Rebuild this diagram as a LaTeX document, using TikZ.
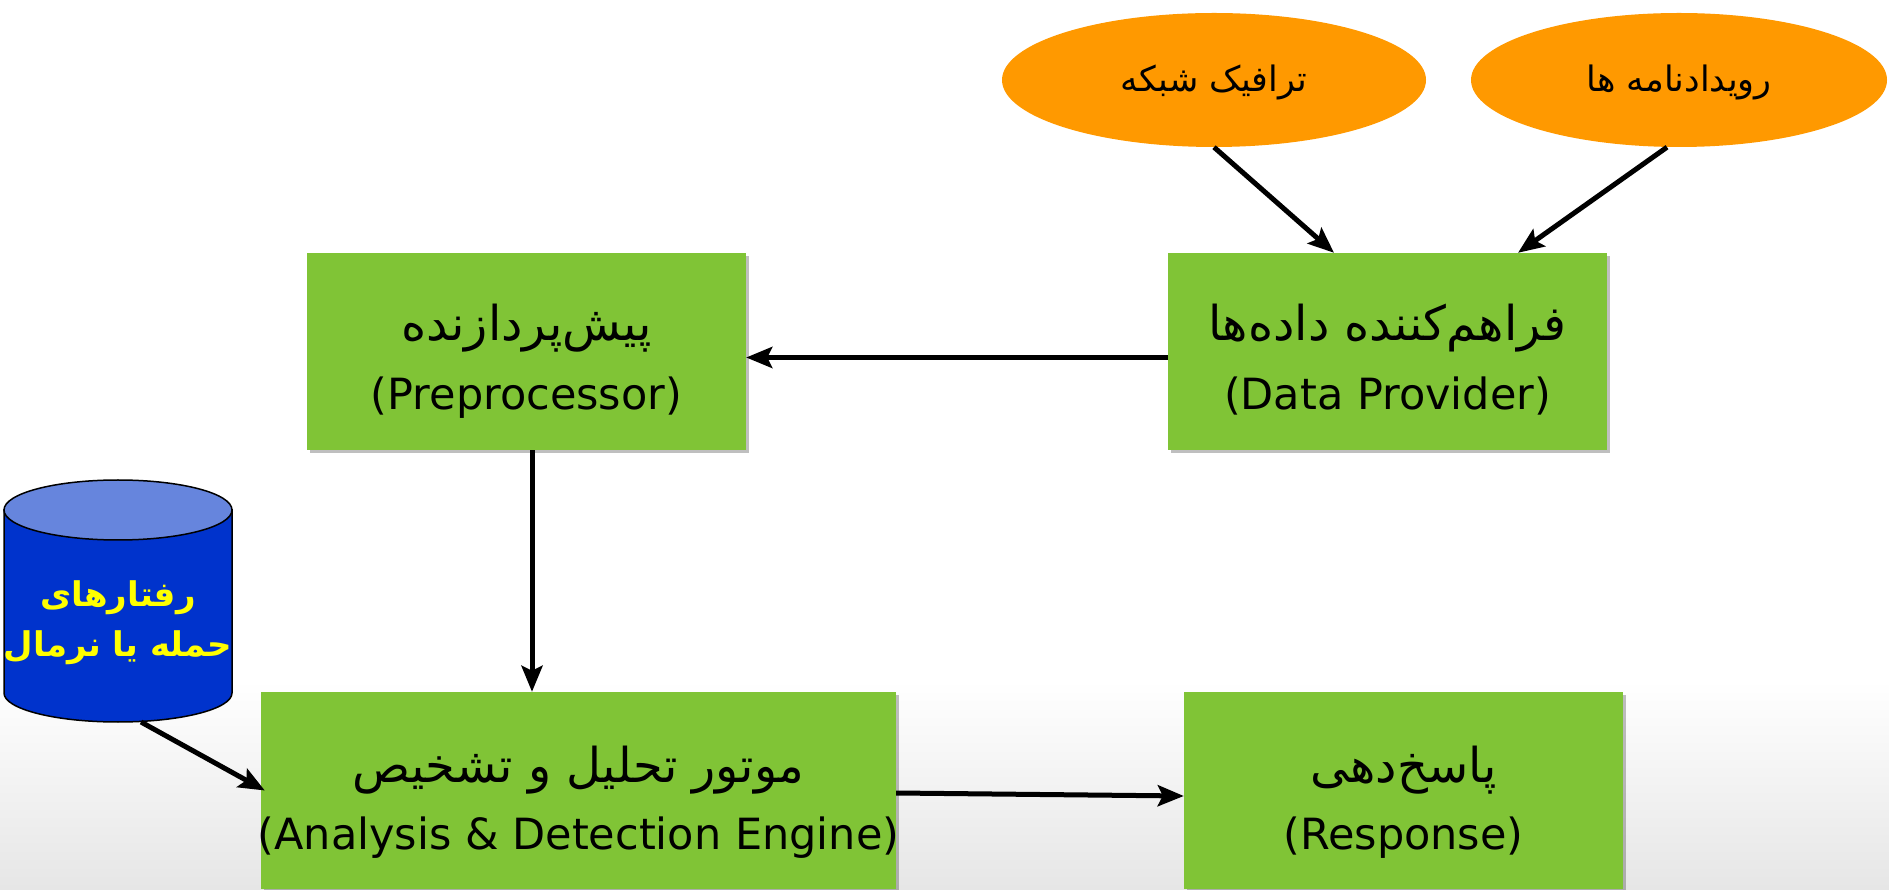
\documentclass[tikz,border=0pt]{standalone}
\usepackage{fontspec}
\setmainfont{DejaVu Sans}
\newfontfamily\fa[Script=Arabic]{DejaVu Sans}
\TeXXeTstate=1
\usetikzlibrary{arrows.meta,shapes.geometric,shadows,calc}
\definecolor{boxgreen}{HTML}{80C436}
\definecolor{ovalorange}{HTML}{FF9900}
\definecolor{dbbody}{HTML}{0033CC}
\definecolor{dbtop}{HTML}{6685DD}
\definecolor{dbtext}{HTML}{FFFF00}
\definecolor{bggray}{HTML}{E6E6E6}
\tikzset{
  greenbox/.style={rectangle, fill=boxgreen, inner sep=0pt,
    drop shadow={shadow xshift=3pt, shadow yshift=-3pt, opacity=0.25, fill=black}},
  oval/.style={ellipse, fill=ovalorange, inner sep=0pt},
  fatext/.style={anchor=base, font=\fa\fontsize{48}{56}\selectfont},
  latext/.style={anchor=base, font=\fontsize{43}{50}\selectfont},
  ovaltext/.style={anchor=base, font=\fa\fontsize{35}{42}\selectfont},
  dbtextstyle/.style={anchor=base, text=dbtext, font=\fa\bfseries\fontsize{34}{40}\selectfont},
  conn/.style={line width=5pt, -{Stealth[length=26pt,width=21pt,inset=5pt]}}
}
\begin{document}
\begin{tikzpicture}[x=1pt,y=1pt]
\useasboundingbox (0,0) rectangle (1889,889);
\fill[white] (0,0) rectangle (1889,889);
\shade[top color=white, bottom color=bggray] (0,0) rectangle (1889,209);

% boxes
\node[greenbox, minimum width=439pt, minimum height=197pt] (pre) at (526.5,537.5) {};
\node[greenbox, minimum width=439pt, minimum height=197pt] (dp) at (1387.5,537.5) {};
\node[greenbox, minimum width=635pt, minimum height=197pt] (ana) at (578.5,98.5) {};
\node[greenbox, minimum width=439pt, minimum height=197pt] (resp) at (1403.5,98.5) {};

% box texts
\node[fatext] (preFa) at (526.5,548) {\beginR پیش^^^^200cپردازنده\endR};
\node[latext] (preEn) at (526.5,479) {(Preprocessor)};
\node[fatext] (dpFa) at (1387.5,548) {\beginR فراهم^^^^200cکننده داده^^^^200cها\endR};
\node[latext] (dpEn) at (1387.5,479) {(Data Provider)};
\node[fatext] (anaFa) at (578.5,107) {\beginR موتور تحلیل و تشخیص\endR};
\node[latext] (anaEn) at (578.5,40) {(Analysis \& Detection Engine)};
\node[fatext] (respFa) at (1403.5,107) {\beginR پاسخ^^^^200cدهی\endR};
\node[latext] (respEn) at (1403.5,40) {(Response)};

% ovals
\node[oval, minimum width=424pt, minimum height=134pt] (tr) at (1214,809) {};
\node[ovaltext] (trT) at (1214,797) {\beginR ترافیک شبکه\endR};
\node[oval, minimum width=416pt, minimum height=134pt] (lg) at (1679,809) {};
\node[ovaltext] (lgT) at (1679,797) {\beginR رویدادنامه ها\endR};

% database cylinder
\filldraw[fill=dbbody, draw=black, line width=1.5pt]
  (4,379) -- (4,196) arc[start angle=180, end angle=360, x radius=114pt, y radius=29pt]
  -- (232,379) -- cycle;
\filldraw[fill=dbtop, draw=black, line width=1.5pt] (118,379) ellipse [x radius=114pt, y radius=30pt];
\node[dbtextstyle] (db1) at (118,282) {\beginR رفتارهای\endR};
\node[dbtextstyle] (db2) at (118,232) {\beginR حمله یا نرمال\endR};
\coordinate (dbb) at (141,167);

% connectors
\draw[conn] (tr.south) -- ([xshift=-53.5pt]dp.north);
\draw[conn] ([xshift=-12pt]lg.south) -- ([xshift=130.5pt]dp.north);
\draw[conn] ([yshift=-6pt]dp.west) -- ([yshift=-6pt]pre.east);
\draw[conn] ([xshift=5.5pt]pre.south) -- ([xshift=5.5pt]pre.south |- ana.north);
\draw[conn] ([yshift=-2.5pt]ana.east) -- ([yshift=-5.5pt]resp.west);
\draw[conn] (dbb) -- ([xshift=4pt]ana.west);
\end{tikzpicture}
\end{document}
